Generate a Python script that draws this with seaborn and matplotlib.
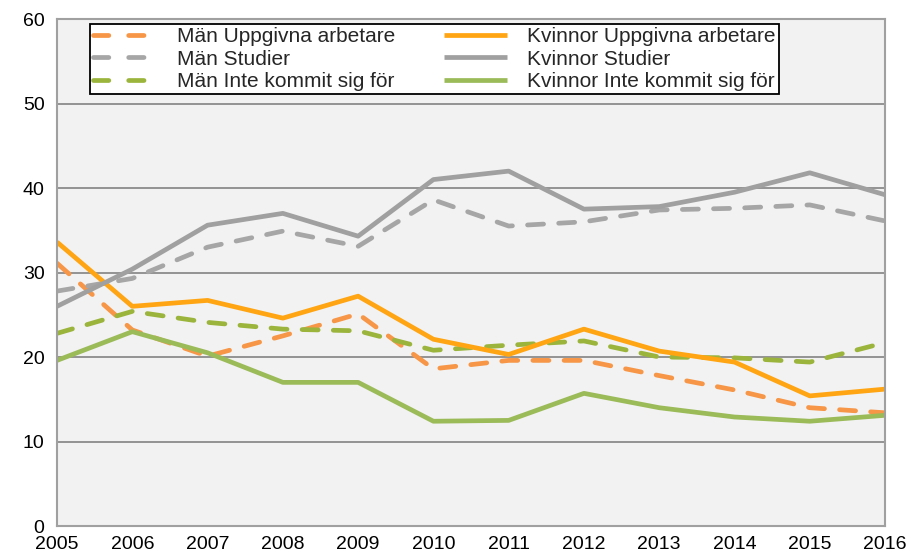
import pandas as pd
import matplotlib
matplotlib.use('Agg')
import matplotlib.pyplot as plt
import seaborn as sns

# ── data ─────────────────────────────────────────────────────
years = list(range(2005, 2017))
man_uppgivna = [31.1, 23.2, 20.1, 22.5, 25.1, 18.6, 19.6, 19.6, 17.8, 16.1, 14.0, 13.4]
man_studier = [27.8, 29.3, 33.0, 34.9, 33.1, 38.6, 35.5, 36.0, 37.4, 37.6, 38.0, 36.1]
man_inte = [22.8, 25.4, 24.1, 23.3, 23.1, 20.8, 21.4, 21.9, 20.0, 19.9, 19.4, 21.7]
kv_uppgivna = [33.6, 26.0, 26.7, 24.6, 27.2, 22.1, 20.3, 23.3, 20.7, 19.4, 15.4, 16.2]
kv_studier = [26.0, 30.4, 35.6, 37.0, 34.3, 41.0, 42.0, 37.5, 37.8, 39.5, 41.8, 39.2]
kv_inte = [19.6, 23.0, 20.5, 17.0, 17.0, 12.4, 12.5, 15.7, 14.0, 12.9, 12.4, 13.1]

series = {
    'Män Uppgivna arbetare': man_uppgivna,
    'Män Studier': man_studier,
    'Män Inte kommit sig för': man_inte,
    'Kvinnor Uppgivna arbetare': kv_uppgivna,
    'Kvinnor Studier': kv_studier,
    'Kvinnor Inte kommit sig för': kv_inte,
}
colors = {
    'Män Uppgivna arbetare': '#F79646',
    'Män Studier': '#A6A6A6',
    'Män Inte kommit sig för': '#9BB53C',
    'Kvinnor Uppgivna arbetare': '#FFA514',
    'Kvinnor Studier': '#A0A0A0',
    'Kvinnor Inte kommit sig för': '#9BBB59',
}
dashes = {k: ((3.4, 3.2) if k.startswith('Män') else '') for k in series}

df = pd.DataFrame([(name, y, v) for name, vals in series.items()
                   for y, v in zip(years, vals)],
                  columns=['serie', 'år', 'värde'])

# ── plot ─────────────────────────────────────────────────────
sns.set_theme(style='white')
plt.rcParams['font.family'] = ['Liberation Sans', 'DejaVu Sans']

fig = plt.figure(figsize=(9.11, 5.59), dpi=100)
ax = fig.add_axes([0.0626, 0.059, 0.9089, 0.907])
ax.set_facecolor('#F2F2F2')

sns.lineplot(data=df, x='år', y='värde', hue='serie', style='serie',
             hue_order=list(series), style_order=list(series),
             palette=colors, dashes=dashes, linewidth=3.4, ax=ax)
for ln in ax.get_lines():
    ln.set_dash_capstyle('round')
    ln.set_solid_capstyle('butt')

ax.set_xlim(2005, 2016)
ax.set_ylim(0, 60)
ax.set_xticks(years)
ax.set_yticks(range(0, 61, 10))
ax.set_xlabel('')
ax.set_ylabel('')
ax.grid(axis='y', color='#8C8C8C', linewidth=1.3)
ax.set_axisbelow(True)
for s in ax.spines.values():
    s.set_color('#A0A0A0')
    s.set_linewidth(1.5)
ax.tick_params(axis='both', length=5, width=1.2, color='#8C8C8C',
               labelsize=14, labelcolor='black', direction='out')
ax.tick_params(axis='x', pad=2)
ax.tick_params(axis='y', pad=4)

h, l = ax.get_legend_handles_labels()
leg = ax.legend(h, l, ncol=2, loc='upper left', bbox_to_anchor=(0.040, 0.99),
                fontsize=15, frameon=True, fancybox=False, handlelength=3.0,
                handletextpad=1.0, columnspacing=2.35, labelspacing=0.16,
                borderpad=0.16, borderaxespad=0)
leg.get_frame().set_edgecolor('black')
leg.get_frame().set_linewidth(1.3)
leg.get_frame().set_facecolor('white')
leg.get_frame().set_alpha(1)
# two clean dashes per legend key, like the original
for line, name in zip(leg.get_lines(), l):
    if name.startswith('Män'):
        line.set_dashes((3.25, 4.2))
        line.set_dash_capstyle('round')

fig.savefig('out.png', dpi=100)
